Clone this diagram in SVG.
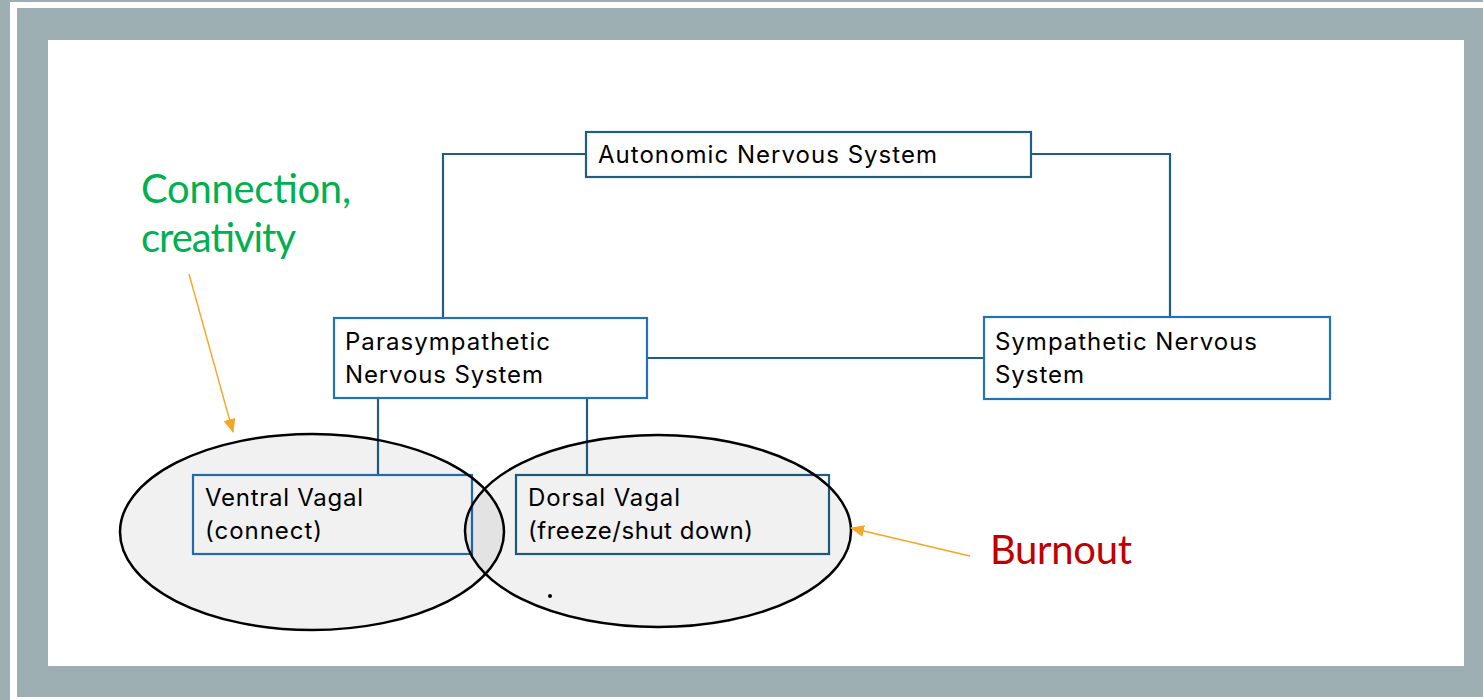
<svg xmlns="http://www.w3.org/2000/svg" width="1483" height="700" viewBox="0 0 1483 700">
  <style>
    .box { fill: #ffffff; stroke-width: 2.2; }
    .boxclear { fill: none; stroke-width: 2.2; }
    .blue { stroke: #2272b8; }
    .teal { stroke: #1e5f80; }
    .lbl { font-family: Inter, "Liberation Sans", sans-serif; font-size: 24px; fill: #000000; }
    .wire { fill: none; stroke: #1e5f80; stroke-width: 2.2; }
    .halo { fill: #000000; fill-opacity: 0.055; stroke: #000000; stroke-width: 2.5; }
    .note { font-family: Lato, "Liberation Sans", sans-serif; font-size: 40px; }
    .pointer { fill: none; stroke: #f5a623; stroke-width: 1.4; }
  </style>
  <defs>
    <marker id="tip" viewBox="0 0 14 12" refX="13" refY="6" markerWidth="14" markerHeight="12" markerUnits="userSpaceOnUse" orient="auto">
      <path d="M0,0 L14,6 L0,12 z" fill="#f5a623"/>
    </marker>
  </defs>

  <!-- slide frame -->
  <rect x="0" y="0" width="1483" height="700" fill="#9eafb4"/>
  <rect x="10" y="2" width="1480" height="700" fill="#ffffff"/>
  <rect x="17" y="8" width="1470" height="689" fill="#9eafb4"/>
  <rect x="48" y="40" width="1416" height="626" fill="#ffffff"/>

  <!-- connectors -->
  <g id="connectors">
    <path class="wire" d="M586,154 H443 V318"/>
    <path class="wire" d="M1031,154 H1170 V317"/>
    <path class="wire" d="M647,358 H984"/>
    <path class="wire" d="M378,398 V475"/>
    <path class="wire" d="M587,398 V475"/>
  </g>

  <g id="autonomic">
    <rect class="box teal" x="586" y="132" width="445" height="45"/>
    <text class="lbl" x="598" y="163" textLength="339">Autonomic Nervous System</text>
  </g>

  <g id="parasympathetic">
    <rect class="box blue" x="334" y="318" width="313" height="80"/>
    <text class="lbl" x="345" y="350" textLength="205">Parasympathetic</text>
    <text class="lbl" x="345" y="383" textLength="198">Nervous System</text>
  </g>

  <g id="sympathetic">
    <rect class="box blue" x="984" y="317" width="346" height="82"/>
    <text class="lbl" x="995" y="350" textLength="262">Sympathetic Nervous</text>
    <text class="lbl" x="995" y="383" textLength="89">System</text>
  </g>

  <g id="ventral">
    <rect class="boxclear blue" x="193" y="475" width="279" height="79"/>
    <text class="lbl" x="205" y="506" textLength="158">Ventral Vagal</text>
    <text class="lbl" x="205" y="539" textLength="117">(connect)</text>
  </g>

  <g id="dorsal">
    <rect class="boxclear teal" x="516" y="475" width="313" height="79"/>
    <text class="lbl" x="528" y="506" textLength="152">Dorsal Vagal</text>
    <text class="lbl" x="528" y="539" textLength="225">(freeze/shut down)</text>
  </g>

  <!-- overlapping state regions -->
  <g id="ventral-region">
    <ellipse class="halo" cx="312" cy="532" rx="192" ry="98"/>
  </g>
  <g id="dorsal-region">
    <ellipse class="halo" cx="658" cy="531" rx="193" ry="96"/>
    <circle cx="550" cy="596" r="2" fill="#000000"/>
  </g>

  <g id="connection-note">
    <text class="note" x="141" y="203" fill="#00b050" textLength="210">Connection,</text>
    <text class="note" x="141" y="252" fill="#00b050" textLength="155">creativity</text>
    <line class="pointer" x1="189" y1="274" x2="233" y2="432" marker-end="url(#tip)"/>
  </g>

  <g id="burnout-note">
    <text class="note" x="990" y="564" fill="#c00000" textLength="142">Burnout</text>
    <line class="pointer" x1="970" y1="556" x2="851" y2="528" marker-end="url(#tip)"/>
  </g>
</svg>
